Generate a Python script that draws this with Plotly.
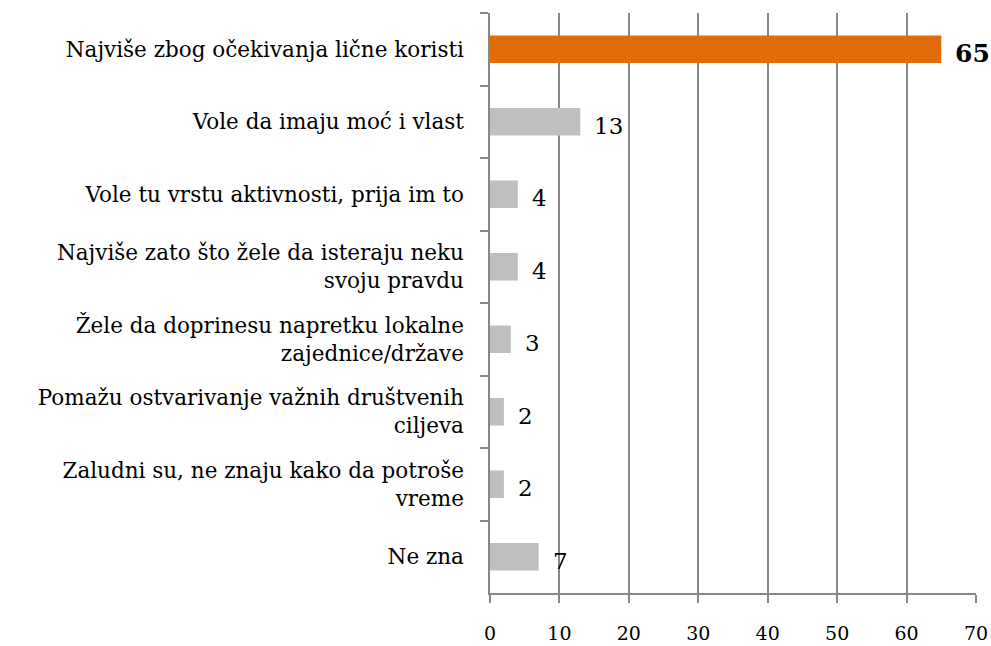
import plotly.graph_objects as go

categories = [
    "Najviše zbog očekivanja lične koristi",
    "Vole da imaju moć i vlast",
    "Vole tu vrstu aktivnosti, prija im to",
    "Najviše zato što žele da isteraju neku<br>svoju pravdu",
    "Žele da doprinesu napretku lokalne<br>zajednice/države",
    "Pomažu ostvarivanje važnih društvenih<br>ciljeva",
    "Zaludni su, ne znaju kako da potroše<br>vreme",
    "Ne zna",
]
values = [65, 13, 4, 4, 3, 2, 2, 7]
x_ticks = [0, 10, 20, 30, 40, 50, 60, 70]

FONT = "DejaVu Serif"
GRID = "#888888"
colors = ["#E36C0A"] + ["#BFBFBF"] * (len(values) - 1)

fig = go.Figure(go.Bar(
    x=values, y=categories, orientation="h",
    marker=dict(color=colors, line=dict(width=0)),
    hoverinfo="skip",
))

for i, (c, v) in enumerate(zip(categories, values)):
    fig.add_annotation(
        x=v, y=c, text=f"<b>{v}</b>" if i == 0 else str(v),
        showarrow=False, xanchor="left", yanchor="middle",
        xshift=12, yshift=-4,
        font=dict(family=FONT, size=25 if i == 0 else 23, color="#000000"),
    )

fig.update_layout(
    width=991, height=646,
    margin=dict(l=490, r=15, t=13, b=53, autoexpand=False),
    paper_bgcolor="white", plot_bgcolor="white",
    bargap=0.62, showlegend=False,
    font=dict(family=FONT, size=21, color="#000000"),
)
fig.update_xaxes(
    range=[0, 70], tickvals=x_ticks, ticktext=[str(t) for t in x_ticks],
    showgrid=True, gridcolor=GRID, gridwidth=1.5,
    showline=True, linecolor=GRID, linewidth=1.5,
    ticks="outside", ticklen=8, tickcolor=GRID, tickwidth=1.5,
    ticklabelstandoff=14, zeroline=False,
    tickfont=dict(family=FONT, size=19),
)
fig.update_yaxes(
    autorange="reversed", categoryorder="array", categoryarray=categories,
    showline=True, linecolor=GRID, linewidth=1.5,
    ticks="outside", ticklen=8, tickcolor=GRID, tickwidth=1.5,
    tickson="boundaries", ticklabelstandoff=20,
    showgrid=False, zeroline=False,
    tickfont=dict(family=FONT, size=21.5),
)

fig.write_html(
    "out.html",
    config={"displayModeBar": False},
    post_script="document.body.style.margin='0';document.body.style.overflow='hidden';",
)
